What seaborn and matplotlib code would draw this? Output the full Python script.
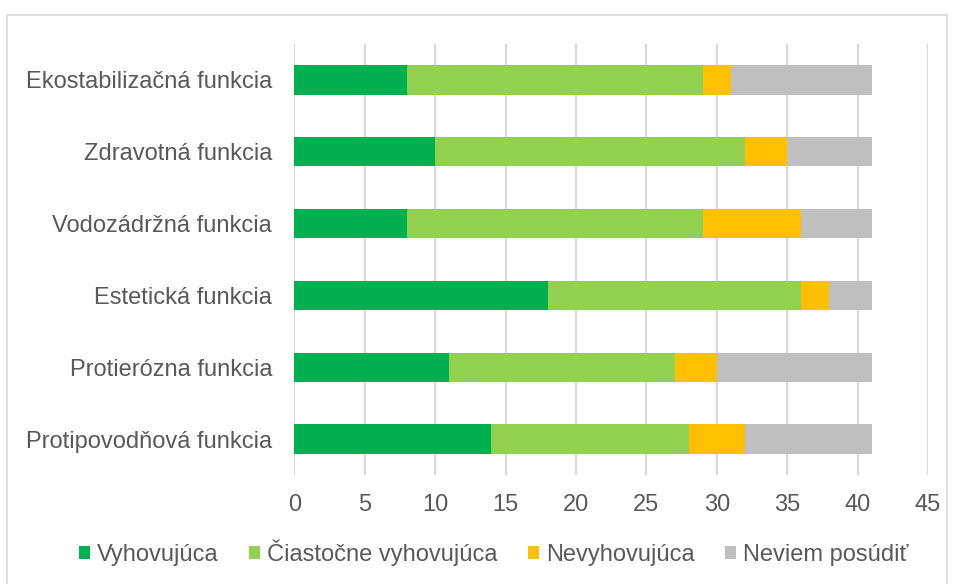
import matplotlib
matplotlib.use("Agg")
import matplotlib.pyplot as plt
from matplotlib.patches import Patch, Rectangle
import numpy as np
import pandas as pd
import seaborn as sns

# Survey responses per forest function
categories = [
    "Ekostabilizačná funkcia",
    "Zdravotná funkcia",
    "Vodozádržná funkcia",
    "Estetická funkcia",
    "Protierózna funkcia",
    "Protipovodňová funkcia",
]
series_names = ["Vyhovujúca", "Čiastočne vyhovujúca", "Nevyhovujúca", "Neviem posúdiť"]
vyhovujuca = [8, 10, 8, 18, 11, 14]
ciastocne = [21, 22, 21, 18, 16, 14]
nevyhovujuca = [2, 3, 7, 2, 3, 4]
neviem = [10, 6, 5, 3, 11, 9]
colors = ["#00B050", "#92D050", "#FFC000", "#BFBFBF"]
xticks = [0, 5, 10, 15, 20, 25, 30, 35, 40, 45]

text_color = "#595959"
grid_color = "#D9D9D9"
fs = 17

sns.set_theme(style="white")
plt.rcParams["font.family"] = ["Liberation Sans", "DejaVu Sans"]

values = np.array([vyhovujuca, ciastocne, nevyhovujuca, neviem], dtype=float)
cumulative = np.cumsum(values, axis=0)

fig = plt.figure(figsize=(9.57, 5.84), dpi=100)
ax = fig.add_axes([294.3 / 957, 1 - 475 / 584, (928 - 294.3) / 957, (475 - 44) / 584])

# Stacked bars: draw running totals from the longest down so each segment shows
for i in range(len(series_names) - 1, -1, -1):
    df = pd.DataFrame({"kategoria": categories, "hodnota": cumulative[i]})
    sns.barplot(data=df, x="hodnota", y="kategoria", order=categories,
                color=colors[i], orient="h", width=0.41, ax=ax,
                saturation=1, edgecolor="none", linewidth=0, zorder=2)

ax.set_xlim(0, 45)
ax.set_ylim(len(categories) - 0.5, -0.5)
ax.set_xticks(xticks)
ax.set_xticklabels([str(t) for t in xticks])
ax.xaxis.grid(True, color=grid_color, linewidth=1.6, zorder=0)
ax.yaxis.grid(False)
ax.set_axisbelow(True)
for sp in ax.spines.values():
    sp.set_visible(False)
ax.set_xlabel("")
ax.set_ylabel("")
ax.tick_params(axis="x", length=0, pad=13.5, labelsize=fs, labelcolor=text_color)
ax.tick_params(axis="y", length=0, pad=16, labelsize=fs, labelcolor=text_color)

handles = [Patch(facecolor=c, edgecolor="none", label=n) for c, n in zip(colors, series_names)]
fig.legend(handles=handles, loc="center", bbox_to_anchor=(0.516, 1 - 553 / 584),
           ncol=4, frameon=False, fontsize=fs, labelcolor=text_color,
           handlelength=0.45, handleheight=0.45, handletextpad=0.3,
           columnspacing=1.3, borderaxespad=0)

# Outer chart border
fig.patches.append(Rectangle((7 / 957, -0.05), 940 / 957, 1.05 - 15 / 584,
                             transform=fig.transFigure, fill=False,
                             edgecolor=grid_color, linewidth=1.2))

fig.savefig("out.png", dpi=100)
